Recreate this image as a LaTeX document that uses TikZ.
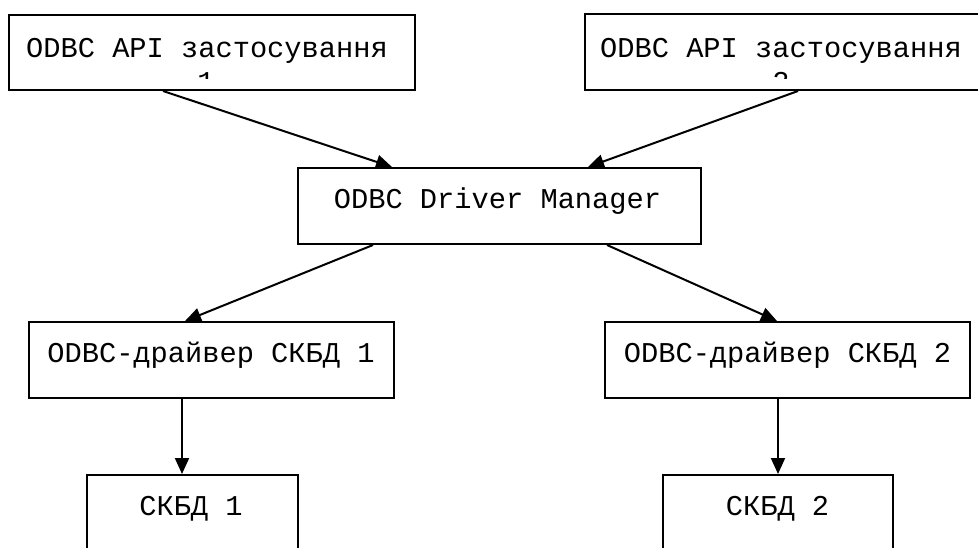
\documentclass[tikz,border=0pt]{standalone}
\usepackage{fontspec}
\newfontfamily\monofont{Liberation Mono}
\usetikzlibrary{arrows.meta,calc}

\tikzset{
  box/.style={draw, line width=1pt, rectangle, inner sep=0pt},
  label text/.style={font=\monofont\fontsize{14.35}{17}\selectfont, inner sep=0pt, anchor=base},
  arr/.style={line width=1pt, -{Triangle[length=8pt,width=7pt]}}
}

\begin{document}
\begin{tikzpicture}[x=0.5pt, y=-0.5pt]
  \useasboundingbox (0,0) rectangle (978,547);
  \clip (0,0) rectangle (978,547);

  % boxes (sizes in px units)
  \node[box, minimum width=203pt, minimum height=37.5pt] (app1) at (212,52.5) {};
  \node[box, minimum width=198.5pt, minimum height=38pt] (app2) at (783.5,52) {};
  \node[box, minimum width=201.5pt, minimum height=38pt] (mgr) at (499.5,206) {};
  \node[box, minimum width=182.5pt, minimum height=38pt] (drv1) at (211.5,360) {};
  \node[box, minimum width=182.5pt, minimum height=38pt] (drv2) at (787.5,360) {};
  \node[box, minimum width=105.5pt, minimum height=38pt] (db1) at (192.5,513) {};
  \node[box, minimum width=115pt, minimum height=38pt] (db2) at (778,513) {};

  % labels
  \node[label text] (t1a) at (207,57) {ODBC API застосування};
  \node[label text] (t2a) at (781,57) {ODBC API застосування};
  \begin{scope}
    \clip (0,60) rectangle (978,78);
    \node[label text] (t1b) at (206,91) {1};
    \node[label text] (t2b) at (781,91) {2};
  \end{scope}
  \node[label text] (tm) at (497.5,208) {ODBC Driver Manager};
  \node[label text] (td1) at (211,362) {ODBC-драйвер СКБД 1};
  \node[label text] (td2) at (787.5,362) {ODBC-драйвер СКБД 2};
  \node[label text] (tb1) at (191,515) {СКБД 1};
  \node[label text] (tb2) at (777.5,515) {СКБД 2};

  % connectors
  \draw[arr] ($(app1.south)+(-49,0)$) -- ($(mgr.north)+(-107.5,0)$);
  \draw[arr] ($(app2.south)+(14.5,0)$) -- ($(mgr.north)+(88.5,0)$);
  \draw[arr] ($(mgr.south)+(-126.5,0)$) -- ($(drv1.north)+(-26.5,0)$);
  \draw[arr] ($(mgr.south)+(107.5,0)$) -- ($(drv2.north)+(-10.5,0)$);
  \draw[arr] ($(drv1.south)+(-29.5,0)$) -- ($(db1.north)+(-10.5,0)$);
  \draw[arr] ($(drv2.south)+(-9.5,0)$) -- (db2.north);
\end{tikzpicture}
\end{document}
